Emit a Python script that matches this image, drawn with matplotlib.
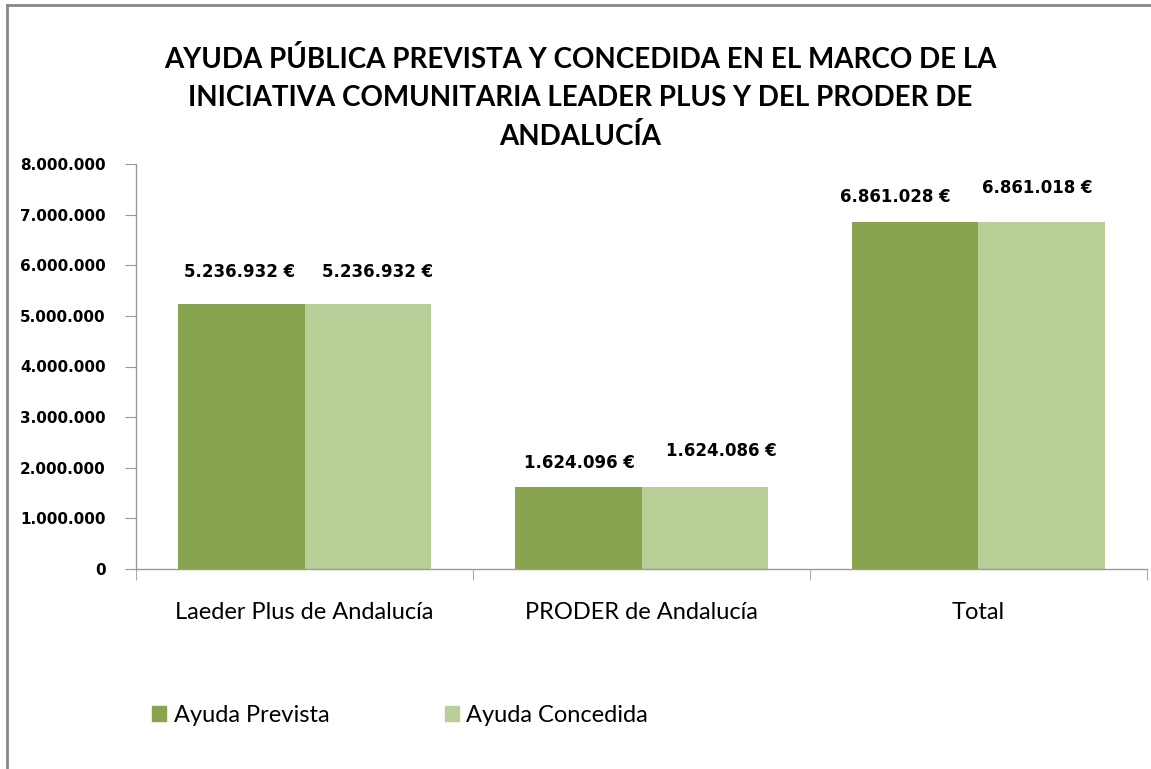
import matplotlib
matplotlib.use("Agg")
import matplotlib.pyplot as plt
import numpy as np
from matplotlib.lines import Line2D
from matplotlib.patches import Patch
from matplotlib.ticker import FuncFormatter, FixedLocator

categories = ["Laeder Plus de Andalucía", "PRODER de Andalucía", "Total"]
series_names = ["Ayuda Prevista", "Ayuda Concedida"]
prevista = [5236932, 1624096, 6861028]
concedida = [5236932, 1624086, 6861018]
title = "AYUDA PÚBLICA PREVISTA Y CONCEDIDA EN EL MARCO DE LA\nINICIATIVA COMUNITARIA LEADER PLUS Y DEL PRODER DE\nANDALUCÍA"

col_prev = "#88A44E"
col_conc = "#B9CF97"

plt.rcParams['font.family'] = ['Lato', 'DejaVu Sans']

fig = plt.figure(figsize=(11.51, 7.69), dpi=100)
ax = fig.add_axes([136/1151, 1-569/769, (1147-136)/1151, (569-164)/769])

x = np.arange(len(categories))
w = 0.374
b1 = ax.bar(x - w/2, prevista, w, color=col_prev, label=series_names[0])
b2 = ax.bar(x + w/2, concedida, w, color=col_conc, label=series_names[1])

ax.set_xlim(-0.5, len(categories) - 0.5)
ax.set_ylim(0, 8000000)
ax.yaxis.set_major_locator(FixedLocator(np.arange(0, 8000001, 1000000)))
ax.yaxis.set_major_formatter(FuncFormatter(lambda v, p: f"{int(v):,}".replace(",", ".")))
ax.tick_params(axis='y', length=8, color='#999999', pad=14)
plt.setp(ax.get_yticklabels(), fontweight='bold', fontsize=11, family='DejaVu Sans')

ax.set_xticks(x)
ax.set_xticklabels(categories, fontsize=17)
ax.tick_params(axis='x', which='major', length=0, pad=24)
ax.set_xticks(np.arange(-0.5, len(categories)), minor=True)
ax.tick_params(axis='x', which='minor', length=8, color='#999999')

for s in ['top', 'right']:
    ax.spines[s].set_visible(False)
for s in ['left', 'bottom']:
    ax.spines[s].set_color('#999999')
    ax.spines[s].set_linewidth(1)

def fmt(v):
    return f"{v:,}".replace(",", ".") + " €"

offs_prev = [(-2, 32), (1, 24), (-20, 25)]
offs_conc = [(10, 32), (17, 36), (-4, 34)]
for i, (bar, v) in enumerate(zip(b1, prevista)):
    ax.annotate(fmt(v), (bar.get_x() + bar.get_width()/2, v), xytext=offs_prev[i],
                textcoords='offset pixels', ha='center', va='center',
                fontsize=12, fontweight='bold', family='DejaVu Sans')
for i, (bar, v) in enumerate(zip(b2, concedida)):
    ax.annotate(fmt(v), (bar.get_x() + bar.get_width()/2, v), xytext=offs_conc[i],
                textcoords='offset pixels', ha='center', va='center',
                fontsize=12, fontweight='bold', family='DejaVu Sans')

fig.text(580/1151, 1-98/769, title, ha='center', va='center', fontsize=20,
         fontweight='bold', linespacing=1.55)

handles = [Patch(color=col_prev), Patch(color=col_conc)]
fig.legend(handles, series_names, loc='center left', bbox_to_anchor=(131/1151, 1-715/769),
           ncol=2, frameon=False, fontsize=17, handlelength=0.6, handleheight=0.6,
           handletextpad=0.3, columnspacing=4.9)

fig.add_artist(Line2D([7/1151, 7/1151], [0, 1-5/769], color='#888888', lw=2))
fig.add_artist(Line2D([7/1151, 1], [1-5/769, 1-5/769], color='#888888', lw=2))

fig.savefig("out.png", dpi=100)
